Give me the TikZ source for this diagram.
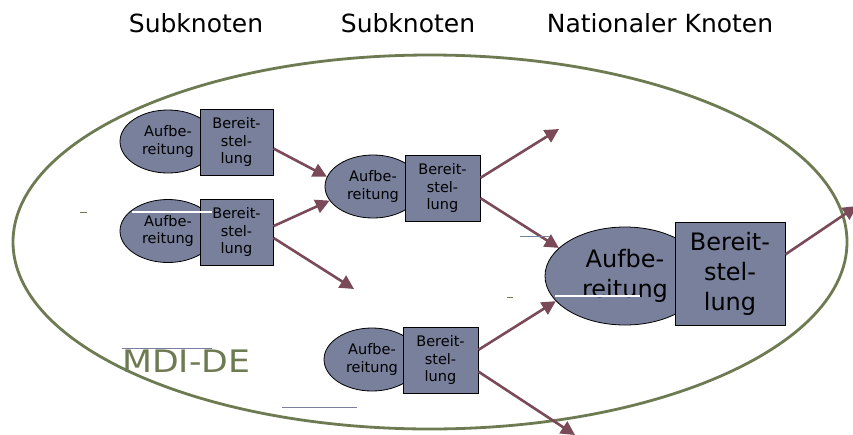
\documentclass[tikz,border=0pt]{standalone}
\usepackage{fontspec}
\setmainfont{DejaVu Sans}
\newfontfamily\widefont[FakeStretch=1.12]{DejaVu Sans}
\usetikzlibrary{arrows.meta,shapes.geometric}
\definecolor{slate}{RGB}{120,128,155}
\definecolor{maroon}{RGB}{122,74,88}
\definecolor{olive}{RGB}{110,122,82}
\tikzset{
  prep/.style={ellipse, draw=black, line width=0.8pt, fill=slate, inner sep=0pt,
    align=center, font=\fontsize{14.5}{17.5}\selectfont},
  prov/.style={rectangle, draw=black, line width=0.8pt, fill=slate, inner sep=0pt,
    align=center, font=\fontsize{14.5}{17.5}\selectfont},
  bigtext/.style={font=\fontsize{24}{30}\selectfont},
  flow/.style={draw=maroon, line width=2.6pt, -{Triangle[length=14pt,width=14pt]}},
  head/.style={anchor=base, inner sep=0pt, font=\fontsize{25}{30}\selectfont},
  stray/.style={draw=slate, line width=0.8pt},
  gap/.style={draw=white, line width=1.6pt}
}
\begin{document}
\begin{tikzpicture}[x=1pt,y=-1pt]
\useasboundingbox (0,0) rectangle (853,434);
\fill[white] (0,0) rectangle (853,434);
% outer ellipse
\draw[olive, line width=2.8pt] (430,242) ellipse [x radius=417, y radius=187];
% headings
\node[head] (h1) at (196,32) {Subknoten};
\node[head] (h2) at (408,32) {Subknoten};
\node[head] (h3) at (660,32) {Nationaler Knoten};
\node[anchor=base west, inner sep=0pt, text=olive, font=\widefont\fontsize{31}{36}\selectfont] (mdi) at (122,372) {MDI-DE};
% pair A
\node[prep, minimum width=96pt, minimum height=63pt] (eA) at (168,141.5) {Aufbe-\\reitung};
\node[prov, minimum width=73pt, minimum height=66pt] (rA) at (236.5,142) {Bereit-\\stel-\\lung};
% pair B
\node[prep, minimum width=96pt, minimum height=63pt] (eB) at (168,231) {Aufbe-\\reitung};
\node[prov, minimum width=73pt, minimum height=66pt] (rB) at (236.5,232) {Bereit-\\stel-\\lung};
% pair C
\node[prep, minimum width=96pt, minimum height=63pt] (eC) at (373,186.5) {Aufbe-\\reitung};
\node[prov, minimum width=75pt, minimum height=66pt] (rC) at (442.5,188) {Bereit-\\stel-\\lung};
% pair D
\node[prep, minimum width=96pt, minimum height=63pt] (eD) at (372,359.5) {Aufbe-\\reitung};
\node[prov, minimum width=75pt, minimum height=66pt] (rD) at (440.5,360) {Bereit-\\stel-\\lung};
% pair E (national)
\node[prep, bigtext, minimum width=160pt, minimum height=98pt] (eE) at (625,276) {Aufbe-\\reitung};
\node[prov, bigtext, minimum width=110pt, minimum height=103pt] (rE) at (730,273.5) {Bereit-\\stel-\\lung};
% free ends
\coordinate (c3) at (354,289);
\coordinate (c4) at (559,129);
\coordinate (c7) at (575,435);
\coordinate (c8) at (857,206);
% arrows
\draw[flow] (rA.-10) -- (eC.168);
\draw[flow] (rB.9) -- (eC.198);
\draw[flow] (rB.-9) -- (c3);
\draw[flow] (rC.15) -- (c4);
\draw[flow] (rC.-15) -- (eE.157);
\draw[flow] (rD.15) -- (eE.200);
\draw[flow] (rD.-17) -- (c7);
\draw[flow] (rE.19) -- (c8);
% stray marks
\coordinate (s1a) at (122,348); \coordinate (s1b) at (212,348);
\coordinate (s2a) at (282,407); \coordinate (s2b) at (357,407);
\coordinate (s3a) at (520,236); \coordinate (s3b) at (550,236);
\coordinate (s4a) at (507,297); \coordinate (s4b) at (513,297);
\coordinate (s5a) at (80,212); \coordinate (s5b) at (87,212);
\coordinate (g1a) at (132,212); \coordinate (g1b) at (212,212);
\coordinate (g2a) at (555,296); \coordinate (g2b) at (640,296);
\draw[stray] (s1a) -- (s1b);
\draw[stray] (s2a) -- (s2b);
\draw[stray] (s3a) -- (s3b);
\draw[stray, draw=olive] (s4a) -- (s4b);
\draw[stray, draw=olive] (s5a) -- (s5b);
\draw[gap] (g1a) -- (g1b);
\draw[gap] (g2a) -- (g2b);
\end{tikzpicture}
\end{document}
